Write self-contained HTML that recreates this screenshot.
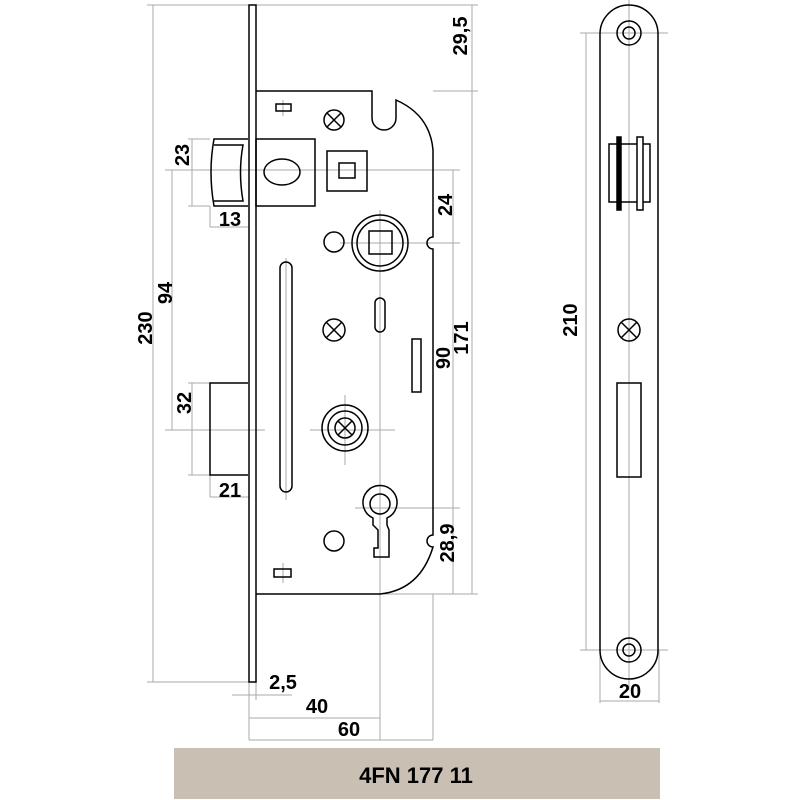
<!DOCTYPE html>
<html><head><meta charset="utf-8"><style>
html,body{margin:0;padding:0;background:#fff;width:800px;height:800px;overflow:hidden}
svg{display:block}
text{font-family:"Liberation Sans",sans-serif;font-weight:bold;fill:#000}
</style></head><body>
<svg width="800" height="800" viewBox="0 0 800 800" xmlns="http://www.w3.org/2000/svg">
<g stroke="#aaa" stroke-width="1" fill="none">
<line x1="153" y1="5" x2="153" y2="682"/>
<line x1="147" y1="5" x2="249" y2="5"/>
<line x1="147" y1="682" x2="249" y2="682"/>
<line x1="172" y1="170" x2="172" y2="430"/>
<line x1="165" y1="170" x2="200" y2="170"/>
<line x1="165" y1="430" x2="205" y2="430"/>
<line x1="192" y1="139" x2="192" y2="206"/>
<line x1="188" y1="139" x2="210" y2="139"/>
<line x1="188" y1="206" x2="210" y2="206"/>
<line x1="192" y1="383" x2="192" y2="475"/>
<line x1="188" y1="383" x2="210" y2="383"/>
<line x1="188" y1="475" x2="210" y2="475"/>
<line x1="210" y1="206" x2="210" y2="227"/><line x1="210" y1="227" x2="249" y2="227"/>
<line x1="210" y1="475" x2="210" y2="497"/><line x1="210" y1="497" x2="249" y2="497"/>
<line x1="195" y1="170" x2="460" y2="170"/>
<line x1="195" y1="430" x2="265" y2="430"/>
<line x1="310" y1="430" x2="395" y2="430"/>
<line x1="340" y1="243" x2="460" y2="243"/>
<line x1="355" y1="508" x2="460" y2="508"/>
<line x1="380" y1="210" x2="380" y2="740"/>
<line x1="345" y1="395" x2="345" y2="465"/>
<line x1="286" y1="258" x2="286" y2="500"/>
<line x1="283" y1="100" x2="283" y2="116"/>
<line x1="283" y1="563" x2="283" y2="583"/>
<line x1="256" y1="5" x2="478" y2="5"/>
<line x1="433" y1="91" x2="478" y2="91"/>
<line x1="472" y1="5" x2="472" y2="594"/>
<line x1="453" y1="170" x2="453" y2="594"/>
<line x1="380" y1="594" x2="478" y2="594"/>
<line x1="249" y1="682" x2="249" y2="740"/>
<line x1="256" y1="682" x2="256" y2="700"/>
<line x1="232" y1="695" x2="292" y2="695"/>
<line x1="249" y1="718" x2="380" y2="718"/>
<line x1="433" y1="594" x2="433" y2="740"/>
<line x1="249" y1="740" x2="433" y2="740"/>
<line x1="629" y1="0" x2="629" y2="690"/>
<line x1="580" y1="33" x2="668" y2="33"/>
<line x1="580" y1="650" x2="668" y2="650"/>
<line x1="586" y1="33" x2="586" y2="650"/>
<line x1="600" y1="650" x2="600" y2="703"/>
<line x1="659" y1="650" x2="659" y2="703"/>
<line x1="600" y1="701" x2="659" y2="701"/>
</g>
<g stroke="#000" stroke-width="1.5" fill="none">
<rect x="249" y="5" width="7" height="677"/>
<path d="M256 91 H372 V118 A12 12 0 0 0 396 118 V100 Q430 115 433 150 V237 A6 6 0 0 0 433 249 V535 A6 6 0 0 0 433 547 Q420 590 380 594 H256"/>
<path d="M248 139 H214 Q208 172 214 206 H248"/>
<path d="M214 145 H243 Q238 172 243 201 H214"/>
<rect x="256" y="139" width="59" height="67"/>
<ellipse cx="282" cy="172" rx="18" ry="13"/>
<rect x="327" y="151" width="40" height="40"/>
<rect x="339" y="163" width="16" height="15"/>
<rect x="276" y="104" width="15" height="7"/>
<rect x="274" y="569" width="17" height="8"/>
<circle cx="334" cy="120" r="10"/><path d="M327 113 L341 127 M341 113 L327 127"/>
<circle cx="334" cy="242" r="10"/>
<circle cx="380" cy="243" r="28"/><circle cx="380" cy="243" r="23"/>
<rect x="369" y="231" width="23" height="23"/>
<rect x="280" y="262" width="12" height="230" rx="6"/>
<rect x="375" y="298" width="10" height="34" rx="5"/>
<circle cx="334" cy="330" r="11"/><path d="M326 322 L342 338 M342 322 L326 338"/>
<rect x="412" y="339" width="9" height="53"/>
<path d="M248 383 H210 V475 H248"/>
<circle cx="345" cy="428" r="23"/><circle cx="345" cy="428" r="17"/><circle cx="345" cy="428" r="10"/>
<path d="M338 421 L352 435 M352 421 L338 435"/>
<path d="M373 518 A17 17 0 1 1 387 518 V525 L389 530 V557 H374 V548 H378 V530 L373 525 Z"/>
<circle cx="380" cy="504" r="10"/>
<circle cx="334" cy="541" r="10"/>
<path d="M600 34 A29 29 0 0 1 658 34 V650 A29 29 0 0 1 600 650 Z"/>
<circle cx="629" cy="33" r="12"/><circle cx="629" cy="33" r="6"/>
<circle cx="629" cy="650" r="12"/><circle cx="629" cy="650" r="6"/>
<circle cx="629" cy="330" r="11"/><path d="M621 322 L637 338 M637 322 L621 338"/>
<rect x="617" y="383" width="24" height="94"/>
<rect x="609" y="144" width="41" height="58"/>
<rect x="617" y="137" width="4" height="73" fill="#000"/>
<rect x="637" y="137" width="6" height="73" fill="#fff"/>
</g>
<g font-size="20">
<text transform="translate(152,328) rotate(-90)" text-anchor="middle">230</text>
<text transform="translate(172,293) rotate(-90)" text-anchor="middle">94</text>
<text transform="translate(189,155) rotate(-90)" text-anchor="middle">23</text>
<text transform="translate(191,403) rotate(-90)" text-anchor="middle">32</text>
<text x="230" y="226" text-anchor="middle">13</text>
<text x="230" y="497" text-anchor="middle">21</text>
<text transform="translate(467,36) rotate(-90)" text-anchor="middle">29,5</text>
<text transform="translate(452,205) rotate(-90)" text-anchor="middle">24</text>
<text transform="translate(450,358) rotate(-90)" text-anchor="middle">90</text>
<text transform="translate(468,338) rotate(-90)" text-anchor="middle">171</text>
<text transform="translate(454,543) rotate(-90)" text-anchor="middle">28,9</text>
<text transform="translate(577,320) rotate(-90)" text-anchor="middle">210</text>
<text x="283" y="689" text-anchor="middle">2,5</text>
<text x="317" y="713" text-anchor="middle">40</text>
<text x="349" y="736" text-anchor="middle">60</text>
<text x="630" y="698" text-anchor="middle">20</text>
</g>
<rect x="174" y="748" width="486" height="51" fill="#c9bfb3"/>
<text x="416" y="783" font-size="22" text-anchor="middle">4FN 177 11</text>
</svg>
</body></html>
